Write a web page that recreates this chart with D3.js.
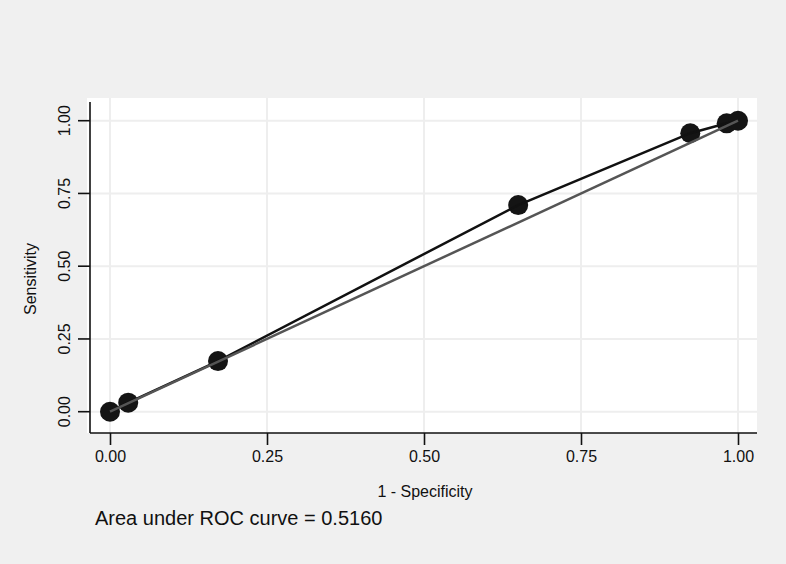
<!DOCTYPE html>
<meta charset="utf-8">
<script src="https://d3js.org/d3.v7.min.js"></script>
<style>
  body { margin: 0; background: #f0f0f0; font-family: 'Liberation Sans', Arial, sans-serif; }
  text { font-family: 'Liberation Sans', Arial, sans-serif; fill: #111; }
</style>
<div id="chart"></div>
<script>

// ROC points
var fpr = [0.000, 0.029, 0.172, 0.650, 0.924, 0.982, 1.000];
var tpr = [0.000, 0.031, 0.174, 0.710, 0.957, 0.991, 1.000];
var ticks = [0, 0.25, 0.5, 0.75, 1];
var aucText = "Area under ROC curve = 0.5160";

var W = 786, H = 564;
var box = {left: 87, right: 757, top: 98, bottom: 433};

var svg = d3.select("#chart").append("svg")
  .attr("width", W).attr("height", H);

svg.append("rect").attr("width", W).attr("height", H).attr("fill", "#f0f0f0");
svg.append("rect")
  .attr("x", box.left).attr("y", box.top)
  .attr("width", box.right - box.left).attr("height", box.bottom - box.top)
  .attr("fill", "#fff");

var x = d3.scaleLinear().domain([0, 1]).range([110, 738]);
var y = d3.scaleLinear().domain([0, 1]).range([411.7, 120.7]);

// grid
svg.append("g").selectAll("line").data(ticks).enter().append("line")
  .attr("x1", d => x(d)).attr("x2", d => x(d))
  .attr("y1", box.top).attr("y2", box.bottom)
  .attr("stroke", "#eeeeee").attr("stroke-width", 2);
svg.append("g").selectAll("line").data(ticks).enter().append("line")
  .attr("y1", d => y(d)).attr("y2", d => y(d))
  .attr("x1", 90).attr("x2", box.right)
  .attr("stroke", "#eeeeee").attr("stroke-width", 2);

// axes
var fmt = d3.format(".2f");
var xAxis = svg.append("g")
  .attr("transform", "translate(0," + box.bottom + ")")
  .call(d3.axisBottom(x).tickValues(ticks).tickFormat(fmt).tickSize(12).tickPadding(6).tickSizeOuter(0));
xAxis.select(".domain").attr("d", "M90,0H" + box.right);
xAxis.selectAll("text").style("font-size", "16px");

var yAxis = svg.append("g")
  .attr("transform", "translate(90,0)")
  .call(d3.axisLeft(y).tickValues(ticks).tickFormat(fmt).tickSize(12).tickSizeOuter(0));
yAxis.select(".domain").attr("d", "M0,102V" + box.bottom);
yAxis.selectAll("g.tick").attr("transform", null);
yAxis.selectAll("g.tick line").attr("y1", d => y(d)).attr("y2", d => y(d)).attr("x2", -12);
yAxis.selectAll("text")
  .style("font-size", "16px")
  .style("text-anchor", "middle")
  .attr("dx", null).attr("dy", null)
  .attr("x", d => -y(d)).attr("y", -20)
  .attr("transform", "rotate(-90)");
[xAxis, yAxis].forEach(function(a) {
  a.selectAll("line, path").attr("stroke", "#111").attr("stroke-width", 1.6);
});

var pts = fpr.map((f, i) => [f, tpr[i]]);

// markers
svg.append("g").selectAll("circle").data(pts).enter().append("circle")
  .attr("cx", d => x(d[0])).attr("cy", d => y(d[1]))
  .attr("r", 10).attr("fill", "#141414");

// ROC curve
svg.append("path").datum(pts)
  .attr("d", d3.line().x(d => x(d[0])).y(d => y(d[1])))
  .attr("fill", "none").attr("stroke", "#111").attr("stroke-width", 2.5);

// reference line
svg.append("path").datum([[0, 0], [1, 1]])
  .attr("d", d3.line().x(d => x(d[0])).y(d => y(d[1])))
  .attr("fill", "none").attr("stroke", "#555").attr("stroke-width", 2.5);

// titles
svg.append("text")
  .attr("x", 425).attr("y", 497)
  .style("text-anchor", "middle").style("font-size", "16px")
  .text("1 - Specificity");

svg.append("text")
  .attr("transform", "translate(36,279) rotate(-90)")
  .style("text-anchor", "middle").style("font-size", "16px")
  .text("Sensitivity");

svg.append("text")
  .attr("x", 95).attr("y", 525)
  .style("font-size", "20px")
  .text(aucText);

</script>
